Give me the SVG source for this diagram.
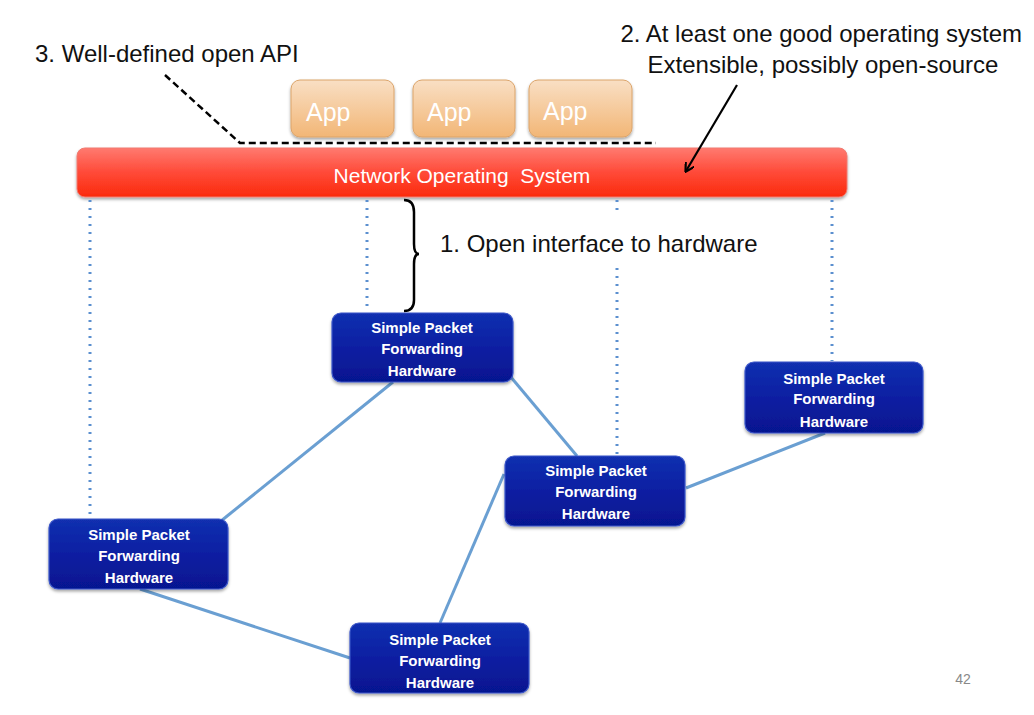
<svg xmlns="http://www.w3.org/2000/svg" width="1034" height="715" viewBox="0 0 1034 715">
<defs>
<linearGradient id="gNos" x1="0" y1="0" x2="0" y2="1">
<stop offset="0" stop-color="#ff7a70"/><stop offset="0.5" stop-color="#ff4a38"/><stop offset="1" stop-color="#fb2a0c"/>
</linearGradient>
<linearGradient id="gApp" x1="0" y1="0" x2="0" y2="1">
<stop offset="0" stop-color="#f9dfc4"/><stop offset="1" stop-color="#f2b676"/>
</linearGradient>
<linearGradient id="gHw" x1="0" y1="0" x2="0" y2="1">
<stop offset="0" stop-color="#1230b0"/><stop offset="0.5" stop-color="#0a1fa2"/><stop offset="1" stop-color="#061690"/>
</linearGradient>
<marker id="arr" markerWidth="10" markerHeight="10" refX="8" refY="5" orient="auto" markerUnits="userSpaceOnUse">
<path d="M0,0 L9,5 L0,10" fill="none" stroke="#000" stroke-width="2.2"/>
</marker>
<filter id="sh" x="-10%" y="-10%" width="120%" height="130%">
<feDropShadow dx="0" dy="2" stdDeviation="1.5" flood-color="#000" flood-opacity="0.35"/>
</filter>
</defs>
<style>
.hw rect{fill:url(#gHw);stroke:#3a55c8;stroke-width:1.2}
.hw text{fill:#fff;font-family:"Liberation Sans",Arial,sans-serif;font-weight:bold;font-size:15px;text-anchor:middle}
.app rect{fill:url(#gApp);stroke:#dba46a;stroke-width:1}
.app text{fill:#fff;font-family:"Liberation Sans",Arial,sans-serif;font-size:25px}
.lbl{fill:#111;font-family:"Liberation Sans",Arial,sans-serif;font-size:24px}
.dot{stroke:#5b8fcf;stroke-width:3;stroke-dasharray:2 6;fill:none}
.edge{stroke:#6a9fd2;stroke-width:3;fill:none}
</style>
<rect width="1034" height="715" fill="#fff"/>

<g id="app1" class="app"><rect x="291" y="80" width="103" height="57" rx="9" filter="url(#sh)"/><text x="306" y="121">App</text></g>
<g id="app2" class="app"><rect x="413" y="80" width="102" height="57" rx="9" filter="url(#sh)"/><text x="427" y="121">App</text></g>
<g id="app3" class="app"><rect x="529" y="80" width="103" height="57" rx="9" filter="url(#sh)"/><text x="543" y="120">App</text></g>

<g id="nos">
<rect x="77" y="148" width="770" height="49" rx="8" fill="url(#gNos)" stroke="#f07a70" stroke-width="1" filter="url(#sh)"/>
<text x="462" y="183" fill="#fff" font-family="'Liberation Sans',Arial,sans-serif" font-size="21" text-anchor="middle" style="white-space:pre">Network Operating  System</text>
</g>

<g id="connectors">
<line class="dot" x1="90" y1="200" x2="90" y2="519"/>
<line class="dot" x1="367" y1="200" x2="367" y2="312"/>
<line class="dot" x1="617" y1="200" x2="617" y2="213"/>
<line class="dot" x1="617" y1="268" x2="617" y2="455"/>
<line class="dot" x1="832" y1="200" x2="832" y2="361"/>
<line class="edge" x1="393" y1="382" x2="221" y2="521"/>
<line class="edge" x1="510" y1="376" x2="577" y2="456"/>
<line class="edge" x1="686" y1="488" x2="825" y2="433"/>
<line class="edge" x1="504" y1="474" x2="440" y2="623"/>
<line class="edge" x1="140" y1="589" x2="350" y2="658"/>
<polyline points="165,75 240,143 656,143" fill="none" stroke="#000" stroke-width="2.5" stroke-dasharray="7 4"/>
<line x1="737" y1="85" x2="686" y2="171" stroke="#000" stroke-width="2.2" marker-end="url(#arr)"/>
<path d="M404,200 Q414,200 414,212 L414,244 Q414,254 419,254 Q414,254 414,264 L414,300 Q414,311 404,311" fill="none" stroke="#000" stroke-width="2.5"/>
</g>

<g id="hw1" class="hw"><rect x="332" y="313" width="181" height="69" rx="9" filter="url(#sh)"/><text x="422" y="333">Simple Packet</text><text x="422" y="354">Forwarding</text><text x="422" y="376">Hardware</text></g>
<g id="hw2" class="hw"><rect x="745" y="362" width="178" height="71" rx="9" filter="url(#sh)"/><text x="834" y="384">Simple Packet</text><text x="834" y="404">Forwarding</text><text x="834" y="427">Hardware</text></g>
<g id="hw3" class="hw"><rect x="505" y="456" width="180" height="70" rx="9" filter="url(#sh)"/><text x="596" y="476">Simple Packet</text><text x="596" y="497">Forwarding</text><text x="596" y="519">Hardware</text></g>
<g id="hw4" class="hw"><rect x="49" y="519" width="179" height="70" rx="9" filter="url(#sh)"/><text x="139" y="540">Simple Packet</text><text x="139" y="561">Forwarding</text><text x="139" y="583">Hardware</text></g>
<g id="hw5" class="hw"><rect x="350" y="623" width="179" height="70" rx="9" filter="url(#sh)"/><text x="440" y="645">Simple Packet</text><text x="440" y="666">Forwarding</text><text x="440" y="688">Hardware</text></g>

<g id="labels">
<text class="lbl" x="35" y="62">3. Well-defined open API</text>
<text class="lbl" x="1022" y="42" text-anchor="end">2. At least one good operating system</text>
<text class="lbl" x="823" y="73" text-anchor="middle">Extensible, possibly open-source</text>
<text class="lbl" x="440" y="252">1. Open interface to hardware</text>
<text x="963" y="684" fill="#888" font-family="'Liberation Sans',Arial,sans-serif" font-size="14" text-anchor="middle">42</text>
</g>
</svg>
